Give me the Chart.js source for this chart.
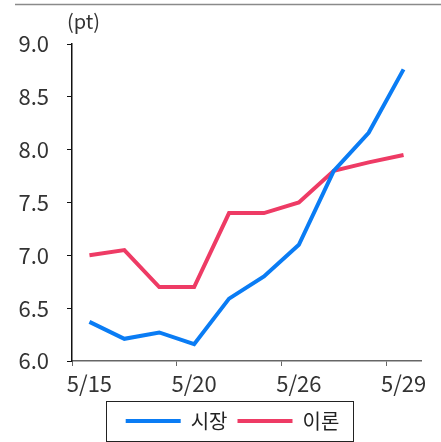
<!DOCTYPE html>
<html>
<head>
<meta charset="utf-8">
<script src="https://cdn.jsdelivr.net/npm/chart.js@4.4.1/dist/chart.umd.min.js"></script>
<style>
  html, body { margin: 0; padding: 0; background: #fff; }
  #wrap { width: 441px; height: 442px; }
</style>
</head>
<body>
<div id="wrap"><canvas id="c"></canvas></div>
<script>
const dates = ['5/15', '5/16', '5/17', '5/20', '5/21', '5/22', '5/26', '5/27', '5/28', '5/29'];
const market = [6.37, 6.21, 6.27, 6.16, 6.59, 6.80, 7.10, 7.80, 8.16, 8.76];
const theory = [7.00, 7.05, 6.70, 6.70, 7.40, 7.40, 7.50, 7.80, 7.88, 7.95];
const yTicks = [6.0, 6.5, 7.0, 7.5, 8.0, 8.5, 9.0];

const FONT = '"Noto Sans CJK KR", "Noto Sans", sans-serif';

// top rule, unit label and the border round the legend
const extras = {
    id: 'extras',
    afterLayout(chart) {
        // nudge the legend block to the right, as in the source
        chart.legend.left = 44;
    },
    afterDraw(chart) {
        const c = chart.ctx;
        c.save();
        c.strokeStyle = '#8a8a8a';
        c.lineWidth = 1.5;
        c.beginPath();
        c.moveTo(15, 4.5);
        c.lineTo(441, 4.5);
        c.stroke();

        c.fillStyle = '#333';
        c.font = '20px ' + FONT;
        c.textBaseline = 'middle';
        c.textAlign = 'left';
        c.fillText('(pt)', 67, 21);

        const boxes = chart.legend.legendHitBoxes;
        if (boxes && boxes.length) {
            const l = Math.min(...boxes.map(b => b.left)) - 20;
            const r = Math.max(...boxes.map(b => b.left + b.width)) + 13;
            c.strokeStyle = '#222';
            c.lineWidth = 1;
            c.strokeRect(Math.round(l) + 0.5, 401.5, Math.round(r - l), 40);
        }
        c.restore();
    }
};

const ctx = document.getElementById('c').getContext('2d');
const chart = new Chart(ctx, {
    type: 'line',
    data: {
        labels: dates,
        datasets: [
            {
                label: '시장',
                data: market,
                borderColor: '#0a7cf4',
                backgroundColor: '#0a7cf4',
                borderWidth: 4,
                pointRadius: 0,
                tension: 0,
            },
            {
                label: '이론',
                data: theory,
                borderColor: '#ee3b65',
                backgroundColor: '#ee3b65',
                borderWidth: 4,
                pointRadius: 0,
                tension: 0,
            },
        ],
    },
    options: {
        responsive: true,
        maintainAspectRatio: false,
        animation: false,
        layout: { padding: { top: 44, right: 20, bottom: 1, left: 0 } },
        plugins: {
            title: { display: false },
            tooltip: { enabled: false },
            legend: {
                position: 'bottom',
                labels: {
                    font: { family: FONT, size: 20 },
                    color: '#222',
                    boxWidth: 55,
                    boxHeight: 4,
                    padding: 10,
                    generateLabels(chart) {
                        return chart.data.datasets.map((ds, i) => ({
                            text: ds.label,
                            fillStyle: ds.borderColor,
                            strokeStyle: ds.borderColor,
                            lineWidth: 0,
                            fontColor: '#222',
                            datasetIndex: i,
                        }));
                    },
                },
            },
        },
        scales: {
            x: {
                offset: true,
                grid: {
                    offset: true,
                    drawOnChartArea: false,
                    tickLength: 5,
                    color: c => (c.index !== undefined && c.index % 3 === 0) ? '#666' : 'rgba(0,0,0,0)',
                },
                border: { color: '#666', width: 1.5 },
                ticks: {
                    autoSkip: false,
                    maxRotation: 0,
                    padding: 4,
                    color: '#333',
                    font: { family: FONT, size: 22 },
                    callback: (v, i) => (i % 3 === 0 ? dates[i] : ''),
                },
                afterFit: s => { s.height = 40; },
            },
            y: {
                min: 6,
                max: 9,
                afterBuildTicks: s => { s.ticks = yTicks.map(v => ({ value: v })); },
                grid: {
                    drawOnChartArea: false,
                    tickLength: 5,
                    color: '#111',
                },
                border: { color: '#111', width: 1.5 },
                ticks: {
                    padding: 18,
                    color: '#333',
                    font: { family: FONT, size: 22 },
                    callback: v => v.toFixed(1),
                },
                afterFit: s => { s.width = 72; },
            },
        },
    },
    plugins: [extras],
});
</script>
</body>
</html>
